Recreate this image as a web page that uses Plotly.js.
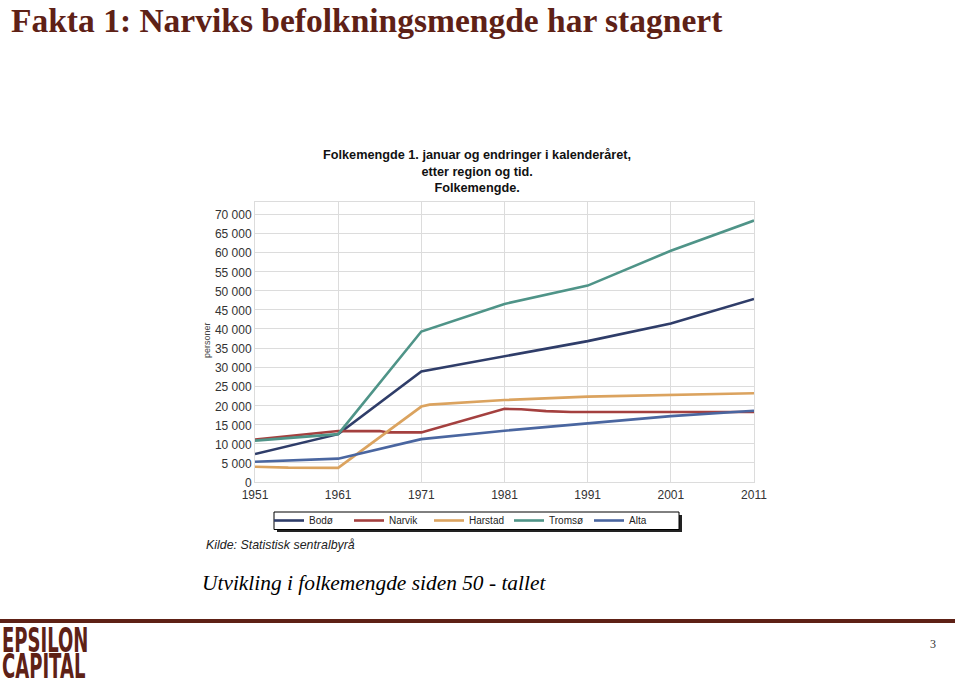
<!DOCTYPE html>
<html>
<head>
<meta charset="utf-8">
<script src="https://cdn.plot.ly/plotly-3.0.1.min.js"></script>
<style>
  html, body { margin: 0; padding: 0; background: #fff; }
  #wrap { position: relative; width: 959px; height: 687px; overflow: hidden; }
  #chart { position: absolute; left: 0; top: 0; width: 959px; height: 687px; }
  .logo { position: absolute; left: 2px; height: 27px; font-family: "DejaVu Sans", sans-serif; font-weight: bold;
          font-size: 34px; line-height: 27px; color: #5e2116; transform: scaleX(0.53); transform-origin: left top;
          white-space: nowrap; }
</style>
</head>
<body>
<div id="wrap">
  <div id="chart"></div>
  <div class="logo" style="top:627px">EPSILON</div>
  <div class="logo" style="top:653px">CAPITAL</div>
</div>
<script>
// ---- Data ----
const seriesNames = ["Bodø", "Narvik", "Harstad", "Tromsø", "Alta"];

const bodoYears    = [1951, 1961, 1971, 1981, 1991, 2001, 2011];
const bodoValues   = [7300, 12500, 28900, 32900, 36800, 41400, 47800];

const narvikYears  = [1951, 1961, 1966, 1967, 1971, 1981, 1983, 1986, 1989, 2011];
const narvikValues = [11100, 13300, 13300, 12950, 12950, 19100, 19000, 18500, 18300, 18300];

const harstadYears  = [1951, 1955, 1961, 1971, 1972, 1981, 1991, 2001, 2011];
const harstadValues = [4000, 3750, 3700, 19700, 20200, 21400, 22300, 22700, 23200];

const tromsoYears  = [1951, 1961, 1971, 1981, 1991, 2001, 2011];
const tromsoValues = [10800, 12500, 39300, 46500, 51300, 60400, 68300];

const altaYears    = [1951, 1961, 1971, 1981, 1991, 2001, 2011];
const altaValues   = [5300, 6100, 11200, 13400, 15300, 17200, 18600];

const xTickVals = [1951, 1961, 1971, 1981, 1991, 2001, 2011];
const xTickText = ["1951", "1961", "1971", "1981", "1991", "2001", "2011"];
const yTickVals = [0, 5000, 10000, 15000, 20000, 25000, 30000, 35000, 40000, 45000, 50000, 55000, 60000, 65000, 70000];
const yTickText = ["0", "5 000", "10 000", "15 000", "20 000", "25 000", "30 000", "35 000", "40 000",
                   "45 000", "50 000", "55 000", "60 000", "65 000", "70 000"];

const pageTitle   = "Fakta 1: Narviks befolkningsmengde har stagnert";
const chartTitle  = ["Folkemengde 1. januar og endringer i kalenderåret,", "etter region og tid.", "Folkemengde."];
const yTitle      = "personer";
const sourceText  = "Kilde: Statistisk sentralbyrå";
const captionText = "Utvikling i folkemengde siden 50 - tallet";
const pageNumber  = "3";

// ---- Styling ----
const colors = ["#2f3d69", "#a4403f", "#dba35f", "#4f9488", "#4a66a0"];
const W = 959, H = 687;
const PL = 255, PR = 754, PT = 202, PB = 482;
const px2x = p => (p - PL) / (PR - PL);
const py2y = p => (PB - p) / (PB - PT);
const yTop = 70000 * (PB - PT) / (PB - 214);

const allYears = [bodoYears, narvikYears, harstadYears, tromsoYears, altaYears];
const allValues = [bodoValues, narvikValues, harstadValues, tromsoValues, altaValues];

const traces = seriesNames.map((name, i) => ({
  type: "scatter", mode: "lines", name: name,
  x: allYears[i], y: allValues[i],
  line: { color: colors[i], width: 2.6 },
  hoverinfo: "skip"
}));

const brown = "#5e2116";
const sans = "Arial, Liberation Sans, sans-serif";
const serif = "Liberation Serif, Times New Roman, serif";

const layout = {
  width: W, height: H, autosize: false,
  paper_bgcolor: "#fff", plot_bgcolor: "#fff",
  margin: { l: PL, r: W - PR, t: PT, b: H - PB, pad: 0 },
  showlegend: true,
  xaxis: {
    range: [1951, 2011], tickvals: xTickVals, ticktext: xTickText,
    showgrid: true, gridcolor: "#dcdcdc", gridwidth: 1, zeroline: false,
    showline: true, linecolor: "#dcdcdc", mirror: true, ticks: "",
    ticklabelstandoff: 2,
    tickfont: { family: sans, size: 12, color: "#333" },
    fixedrange: true
  },
  yaxis: {
    range: [0, yTop], tickvals: yTickVals, ticktext: yTickText,
    showgrid: true, gridcolor: "#dcdcdc", gridwidth: 1, zeroline: false,
    showline: true, linecolor: "#dcdcdc", mirror: true, ticks: "",
    ticklabelshift: 1,
    tickfont: { family: sans, size: 12, color: "#333" },
    fixedrange: true
  },
  legend: {
    orientation: "h", x: px2x(269), xanchor: "left", y: py2y(506), yanchor: "top",
    bgcolor: "rgba(0,0,0,0)", borderwidth: 0,
    font: { family: sans, size: 10, color: "#222" },
    itemwidth: 30, entrywidth: 35, tracegroupgap: 0, traceorder: "normal"
  },
  shapes: [
    { type: "rect", xref: "paper", yref: "paper", layer: "above",
      x0: px2x(277), x1: px2x(682), y0: py2y(515), y1: py2y(532),
      fillcolor: "#222", line: { width: 0 } },
    { type: "rect", xref: "paper", yref: "paper", layer: "above",
      x0: px2x(274), x1: px2x(679), y0: py2y(512), y1: py2y(529.5),
      fillcolor: "#fff", line: { color: "#000", width: 1 } },
    { type: "line", xref: "paper", yref: "paper", layer: "above",
      x0: px2x(0), x1: px2x(955), y0: py2y(621), y1: py2y(621),
      line: { color: brown, width: 4 } }
  ],
  annotations: [
    { xref: "paper", yref: "paper", x: px2x(9), y: py2y(20), xanchor: "left", yanchor: "middle",
      showarrow: false, text: "<b>" + pageTitle + "</b>",
      font: { family: serif, size: 33.5, color: brown } },
    { xref: "paper", yref: "paper", x: px2x(476.5), y: py2y(171), xanchor: "center", yanchor: "middle",
      showarrow: false, align: "center",
      text: chartTitle.map(s => "<b>" + s + "</b>").join("<br>"),
      font: { family: sans, size: 12.7, color: "#111" } },
    { xref: "paper", yref: "paper", x: px2x(207), y: py2y(340), xanchor: "center", yanchor: "middle",
      showarrow: false, textangle: -90, text: yTitle,
      font: { family: sans, size: 9, color: "#444" } },
    { xref: "paper", yref: "paper", x: px2x(204), y: py2y(545), xanchor: "left", yanchor: "middle",
      showarrow: false, text: "<i>" + sourceText + "</i>",
      font: { family: sans, size: 12.4, color: "#222" } },
    { xref: "paper", yref: "paper", x: px2x(200), y: py2y(583), xanchor: "left", yanchor: "middle",
      showarrow: false, text: "<i>" + captionText + "</i>",
      font: { family: serif, size: 21.4, color: "#000" } },
    { xref: "paper", yref: "paper", x: px2x(933), y: py2y(644), xanchor: "center", yanchor: "middle",
      showarrow: false, text: pageNumber,
      font: { family: serif, size: 12, color: "#333" } }
  ]
};

Plotly.newPlot("chart", traces, layout, { staticPlot: true, displayModeBar: false });
</script>
</body>
</html>
